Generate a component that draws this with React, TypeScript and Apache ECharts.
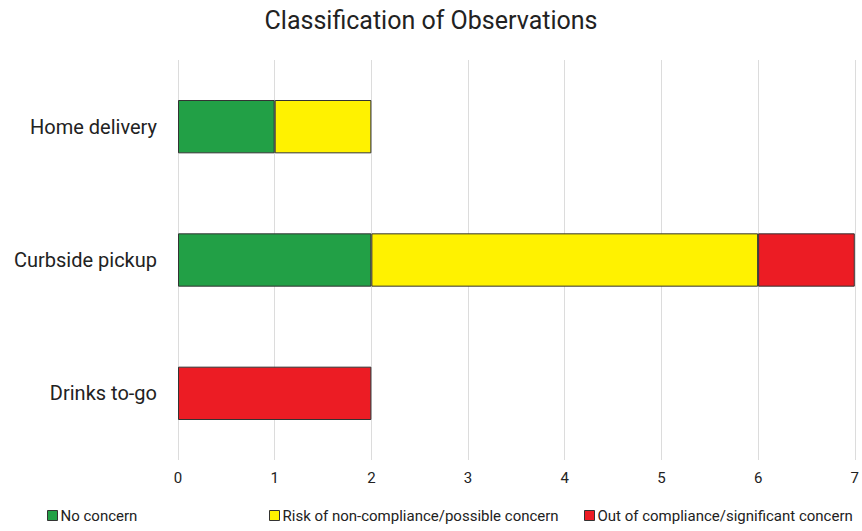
import React, { useEffect, useRef } from "react";
import * as echarts from "echarts";

const categories = ["Home delivery", "Curbside pickup", "Drinks to-go"];
const noConcern = [1, 2, 0];
const riskConcern = [1, 4, 0];
const outOfCompliance = [0, 1, 2];
const seriesNames = [
  "No concern",
  "Risk of non-compliance/possible concern",
  "Out of compliance/significant concern",
];
const seriesColors = ["#22a046", "#fff200", "#ec1c24"];
const xTicks = [0, 1, 2, 3, 4, 5, 6, 7];

const FONT = "Roboto, 'Noto Sans', sans-serif";

export default function App() {
  const ref = useRef<HTMLDivElement>(null);

  useEffect(() => {
    if (!ref.current) return;
    const chart = echarts.init(ref.current, undefined, { renderer: "svg" });
    const values = [noConcern, riskConcern, outOfCompliance];
    const legendLefts = [42, 264, 579];

    chart.setOption({
      animation: false,
      backgroundColor: "#ffffff",
      textStyle: { fontFamily: FONT },
      title: {
        text: "Classification of Observations",
        left: "center",
        top: 3,
        textStyle: { fontFamily: FONT, fontSize: 25, fontWeight: "normal", color: "#222" },
      },
      legend: seriesNames.map((name, i) => ({
        data: [name],
        left: legendLefts[i],
        top: 503,
        itemWidth: 10,
        itemHeight: 10,
        itemGap: 0,
        selectedMode: false,
        textStyle: { fontFamily: FONT, fontSize: 15, color: "#222", padding: [0, 0, 0, -2] },
        itemStyle: { borderColor: "#333", borderWidth: 1 },
        icon: "rect",
      })),
      grid: { left: 178, right: 6, top: 60, bottom: 71 },
      xAxis: {
        type: "value",
        min: xTicks[0],
        max: xTicks[xTicks.length - 1],
        interval: 1,
        axisLine: { show: false },
        axisTick: { show: false },
        axisLabel: { fontFamily: FONT, fontSize: 15, color: "#222", margin: 10 },
        splitLine: { show: true, lineStyle: { color: "#dcdcdc", width: 1 } },
      },
      yAxis: {
        type: "category",
        data: categories,
        inverse: true,
        axisLine: { show: false },
        axisTick: { show: false },
        axisLabel: { fontFamily: FONT, fontSize: 20, color: "#222", margin: 21 },
        splitLine: { show: false },
      },
      series: seriesNames.map((name, i) => ({
        name,
        type: "bar",
        stack: "total",
        barWidth: "40%",
        data: values[i].map((v) => (v === 0 ? "-" : v)),
        itemStyle: { color: seriesColors[i], borderColor: "#333", borderWidth: 1 },
      })),
    });

    return () => chart.dispose();
  }, []);

  return <div ref={ref} style={{ width: 862, height: 531, position: "absolute", left: 0, top: 0 }} />;
}
